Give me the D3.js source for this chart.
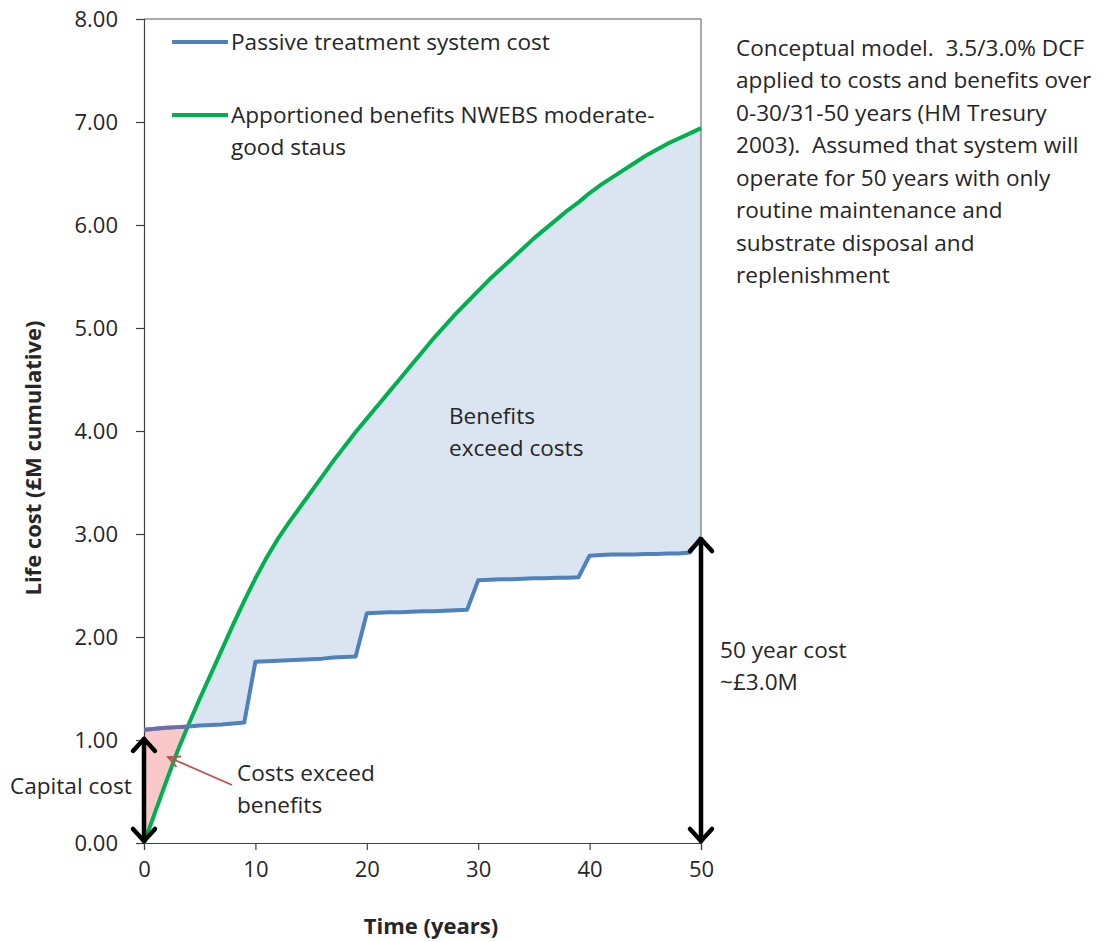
<!DOCTYPE html>
<html><head><meta charset="utf-8">
<script src="https://cdn.jsdelivr.net/npm/d3@7"></script>
<style>
body{margin:0;background:#fff;}
text{font-family:"Open Sans", sans-serif;fill:#262626;white-space:pre;}
</style></head>
<body><svg id="c" width="1103" height="942"></svg>
<script>
const years = d3.range(0, 51);
const costValues = [1.10,1.11,1.12,1.125,1.13,1.14,1.145,1.15,1.16,1.17,
  1.76,1.765,1.77,1.775,1.78,1.785,1.79,1.80,1.805,1.81,
  2.23,2.235,2.24,2.24,2.245,2.25,2.25,2.255,2.26,2.265,
  2.55,2.555,2.56,2.56,2.565,2.57,2.57,2.575,2.575,2.58,
  2.79,2.795,2.80,2.80,2.80,2.805,2.805,2.81,2.81,2.82,2.97];
const benefitValues = [0.00,0.30,0.60,0.89,1.15,1.40,1.64,1.88,2.12,2.35,
  2.57,2.77,2.95,3.11,3.26,3.41,3.56,3.71,3.85,3.99,
  4.12,4.25,4.38,4.51,4.64,4.77,4.90,5.02,5.14,5.25,
  5.36,5.47,5.57,5.67,5.77,5.87,5.96,6.05,6.14,6.22,
  6.31,6.39,6.46,6.53,6.60,6.67,6.73,6.79,6.84,6.89,6.94];
const xTicks = [0,10,20,30,40,50];
const yTicks = [0,1,2,3,4,5,6,7,8];
const seriesNames = ["Passive treatment system cost", ["Apportioned benefits NWEBS moderate-","good staus"]];
const noteLines = ["Conceptual model.  3.5/3.0% DCF","applied to costs and benefits over","0-30/31-50 years (HM Tresury","2003).  Assumed that system will","operate for 50 years with only","routine maintenance and","substrate disposal and","replenishment"];

const svg = d3.select("#c");
const L=144, R=701, T=19, B=843;
const x = d3.scaleLinear().domain([0,50]).range([L,R]);
const y = d3.scaleLinear().domain([0,8]).range([B,T]);
const data = years.map((t,i)=>({t, c:costValues[i], b:benefitValues[i]}));
const blueC="#4f81bd", greenC="#00b050";

const defs = svg.append("defs");
defs.append("clipPath").attr("id","belowGreen").append("path")
  .attr("d", d3.area().x(d=>x(d.t)).y0(B).y1(d=>y(d.b))(data));
defs.append("clipPath").attr("id","aboveGreen").append("path")
  .attr("d", d3.area().x(d=>x(d.t)).y0(T).y1(d=>y(d.b))(data));

// fills
svg.append("path").attr("clip-path","url(#belowGreen)")
  .attr("d", d3.area().x(d=>x(d.t)).y0(d=>y(d.c)).y1(T)(data))
  .attr("fill","#dbe5f1");
svg.append("path").attr("clip-path","url(#aboveGreen)")
  .attr("d", d3.area().x(d=>x(d.t)).y0(d=>y(d.c)).y1(B)(data))
  .attr("fill","#f9c9c9");

// frame
svg.append("line").attr("x1",L).attr("x2",R).attr("y1",T).attr("y2",T).attr("stroke","#595959").attr("stroke-width",1);
svg.append("line").attr("x1",R).attr("x2",R).attr("y1",T).attr("y2",B).attr("stroke","#595959").attr("stroke-width",1);

// axes
const yAxis = svg.append("g").attr("transform",`translate(${L},0)`)
  .call(d3.axisLeft(y).tickValues(yTicks).tickFormat(d3.format(".2f")).tickSize(8).tickPadding(18));
const xAxis = svg.append("g").attr("transform",`translate(0,${B})`)
  .call(d3.axisBottom(x).tickValues(xTicks).tickSize(7).tickPadding(10));
[yAxis,xAxis].forEach(g=>{
  g.select(".domain").attr("stroke","#404040").attr("stroke-width",1.2);
  g.selectAll(".tick line").attr("stroke","#404040").attr("stroke-width",1.2);
  g.selectAll(".tick text").style("font-family","'Open Sans', sans-serif").style("font-size","22px").attr("fill","#333");
});
xAxis.selectAll(".tick text").attr("dy","0.75em");

// lines
svg.append("path").attr("d", d3.line().x(d=>x(d.t)).y(d=>y(d.b))(data))
  .attr("fill","none").attr("stroke",greenC).attr("stroke-width",4).attr("stroke-linejoin","round");
svg.append("path").attr("d", d3.line().x(d=>x(d.t)).y(d=>y(d.c))(data))
  .attr("fill","none").attr("stroke",blueC).attr("stroke-width",4).attr("stroke-linejoin","round");
svg.append("path").attr("clip-path","url(#aboveGreen)")
  .attr("d", d3.line().x(d=>x(d.t)).y(d=>y(d.c))(data))
  .attr("fill","none").attr("stroke","#8064a2").attr("stroke-opacity",0.7).attr("stroke-width",4);

// double arrows
function dblArrow(t, v0, v1){
  const px=x(t), ya=y(v0), yb=y(v1);
  const g=svg.append("g").attr("stroke","#000").attr("fill","none").attr("stroke-width",4.5).attr("stroke-linecap","round").attr("stroke-linejoin","round");
  g.append("line").attr("x1",px).attr("x2",px).attr("y1",ya-2).attr("y2",yb+2);
  g.append("path").attr("d",`M${px-11},${yb+14}L${px},${yb+2}L${px+11},${yb+14}`);
  g.append("path").attr("d",`M${px-11},${ya-14}L${px},${ya-2}L${px+11},${ya-14}`);
}
dblArrow(0, 0, 1.03);
dblArrow(50, 0, 2.97);

// red pointer arrow
(function(){
  const x1=232,y1=785,x2=168,y2=757;
  const a=Math.atan2(y2-y1,x2-x1), h=13, s=0.45;
  const g=svg.append("g").attr("stroke","#c0504d").attr("stroke-width",1.8).attr("fill","none");
  g.append("line").attr("x1",x1).attr("y1",y1).attr("x2",x2).attr("y2",y2);
  g.append("path").attr("d",`M${x2-h*Math.cos(a-s)},${y2-h*Math.sin(a-s)}L${x2},${y2}L${x2-h*Math.cos(a+s)},${y2-h*Math.sin(a+s)}`);
})();

// legend
const fs=22.6;
svg.append("line").attr("x1",172).attr("x2",228).attr("y1",42).attr("y2",42).attr("stroke",blueC).attr("stroke-width",4);
svg.append("text").attr("x",231).attr("y",42).attr("dy","0.35em").style("font-size",fs+"px").text(seriesNames[0]);
svg.append("line").attr("x1",172).attr("x2",228).attr("y1",115).attr("y2",115).attr("stroke",greenC).attr("stroke-width",4);
seriesNames[1].forEach((s,i)=>svg.append("text").attr("x",231).attr("y",115+i*32).attr("dy","0.35em").style("font-size",fs+"px").text(s));

// notes
noteLines.forEach((s,i)=>svg.append("text").attr("x",736).attr("y",48+i*32.5).attr("dy","0.35em").style("font-size",fs+"px").text(s));

function label(lines,x0,y0,anchor){
  lines.forEach((s,i)=>svg.append("text").attr("x",x0).attr("y",y0+i*32).attr("dy","0.35em").attr("text-anchor",anchor||"start").style("font-size",fs+"px").text(s));
}
label(["Benefits","exceed costs"],449,416);
label(["50 year cost","~£3.0M"],720,650);
label(["Costs exceed","benefits"],237,773);
label(["Capital cost"],10,786);

// axis titles
svg.append("text").attr("x",431).attr("y",926).attr("dy","0.35em").attr("text-anchor","middle")
  .style("font-size","22px").style("font-weight","bold").attr("fill","#000").text("Time (years)");
svg.append("text").attr("transform",`translate(33,458) rotate(-90)`).attr("dy","0.35em").attr("text-anchor","middle")
  .style("font-size","22px").style("font-weight","bold").attr("fill","#000").text("Life cost (£M cumulative)");
</script></body></html>
